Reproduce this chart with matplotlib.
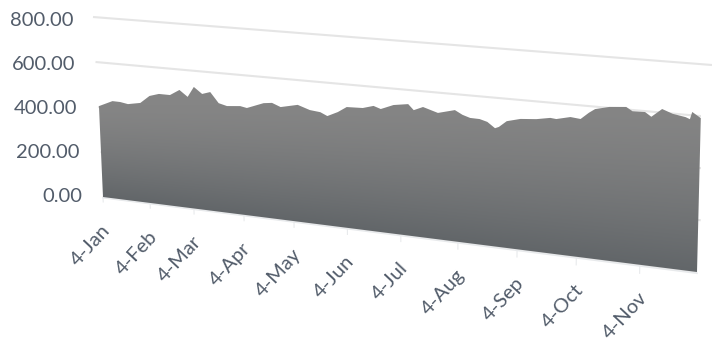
import numpy as np
import matplotlib
matplotlib.use("Agg")
import matplotlib.pyplot as plt
from matplotlib.transforms import Transform
from matplotlib.patches import Rectangle

# Data: days since 4-Jan, and values
days = [0, 9, 14, 19, 27, 33, 39, 46, 52, 57, 61, 66, 71, 76, 81, 89, 93, 103, 108, 113,
        123, 130, 136, 140, 146, 151, 160, 166, 170, 177, 185, 188, 193, 201, 210, 214,
        218, 223, 227, 231, 233, 237, 244, 252, 259, 262, 269, 274, 278, 281, 288, 296,
        299, 305, 308, 313, 318, 324, 326, 327, 331]
values = [404, 426, 422, 413, 418, 447, 455, 450, 470, 442, 481, 453, 460, 417, 406, 406,
          399, 417, 418, 403, 411, 393, 386, 373, 387, 404, 401, 408, 398, 411, 414, 395,
          405, 387, 396, 382, 373, 370, 362, 344, 348, 365, 372, 372, 376, 373, 379, 374,
          391, 401, 407, 407, 396, 394, 382, 402, 390, 382, 377, 395, 380]
tick_days = [0, 31, 59, 90, 120, 151, 181, 212, 243, 273, 304]
tick_labels = ["4-Jan", "4-Feb", "4-Mar", "4-Apr", "4-May", "4-Jun",
               "4-Jul", "4-Aug", "4-Sep", "4-Oct", "4-Nov"]
y_ticks = [0, 200, 400, 600, 800]
y_labels = ["0.00", "200.00", "400.00", "600.00", "800.00"]

SPAN = 331.0


def depth(d):
    t = np.asarray(d, float) / SPAN
    return t / (1 + 0.2 * (1 - t))


class Plane(Transform):
    """Perspective projection of (day, value) onto figure pixels."""
    input_dims = output_dims = 2
    has_inverse = False

    def __init__(self, dx0, dx1, s0, s1):
        super().__init__()
        self.dx0, self.dx1, self.s0, self.s1 = dx0, dx1, s0, s1

    def transform_non_affine(self, xy):
        xy = np.asarray(xy, float)
        u, v = depth(xy[:, 0]), xy[:, 1]
        x = 103 + 594 * u + v * (self.dx0 + (self.dx1 - self.dx0) * u)
        y = 197 + 75 * u - v * (self.s0 + (self.s1 - self.s0) * u)
        return np.column_stack([x, y])


plt.rcParams["font.family"] = ["Lato", "DejaVu Sans"]
fig = plt.figure(figsize=(7.12, 3.43), dpi=100, facecolor="white")
ax = fig.add_axes([0, 0, 1, 1])
ax.set_autoscale_on(False)
ax.set_xlim(0, 712)
ax.set_ylim(343, 0)
ax.axis("off")

wall = Plane(-10 / 800, 15 / 800, 180 / 800, 207 / 800) + ax.transData
front = Plane(-4 / 400, 4 / 400, 0.225, 0.405) + ax.transData
label_edge = Plane(-9 / 800, 0, 177 / 800, 0) + ax.transData

TEXT = "#525c6a"
GRID = "#e5e5e5"
clip = Rectangle((0, 0), 701, 343, transform=ax.transData)

# gridlines on the back wall
grid_days = np.array([0, SPAN / 4, SPAN / 2, 3 * SPAN / 4, SPAN])
for v in y_ticks:
    ln, = ax.plot(grid_days, np.full(5, v), color=GRID, lw=1.5, transform=wall, zorder=1,
                  solid_capstyle="butt")
    if v < 800:
        ln.set_clip_path(clip)

# baseline + ticks
ax.plot([0, SPAN], [-3, -3], color="#e8eaec", lw=1.2, transform=front, zorder=1)
for d in tick_days:
    ax.plot([d, d], [0, -22], color="#e8eaec", lw=0.8, transform=front, zorder=1)

# area with gradient fill
poly = ax.fill_between(days, 0, values, transform=front, facecolor="none",
                       edgecolor="none", zorder=2)
xx, yy = np.meshgrid(np.arange(90, 712) + 0.5, np.arange(80, 290) + 0.5)
base = 197 + 75 * (xx - 103) / 594
f = (np.clip((yy - 105) / (base - 105), 0, 1) ** 1.4)[..., None]
top = np.array([133, 133, 133]) / 255
bottom = np.array([98, 102, 105]) / 255
im = ax.imshow(top + (bottom - top) * f, extent=(90, 712, 290, 80), aspect="auto",
               zorder=2, interpolation="bilinear")
ax.set_xlim(0, 712)
ax.set_ylim(343, 0)
im.set_clip_path(poly.get_paths()[0], poly.get_transform())

# y labels, offset from the slanted axis edge
for v, s in zip(y_ticks, y_labels):
    ax.annotate(s, xy=(0, v), xycoords=label_edge, xytext=(-15, 0), textcoords="offset points",
                ha="right", va="center", fontsize=14.5, color=TEXT)

# x labels
for d, s in zip(tick_days, tick_labels):
    ax.annotate(s, xy=(d, 0), xycoords=front, xytext=(3, -22), textcoords="offset points",
                ha="right", va="center", rotation=47, rotation_mode="anchor",
                fontsize=14.5, color=TEXT)

fig.savefig("out.png", dpi=100, facecolor="white")
